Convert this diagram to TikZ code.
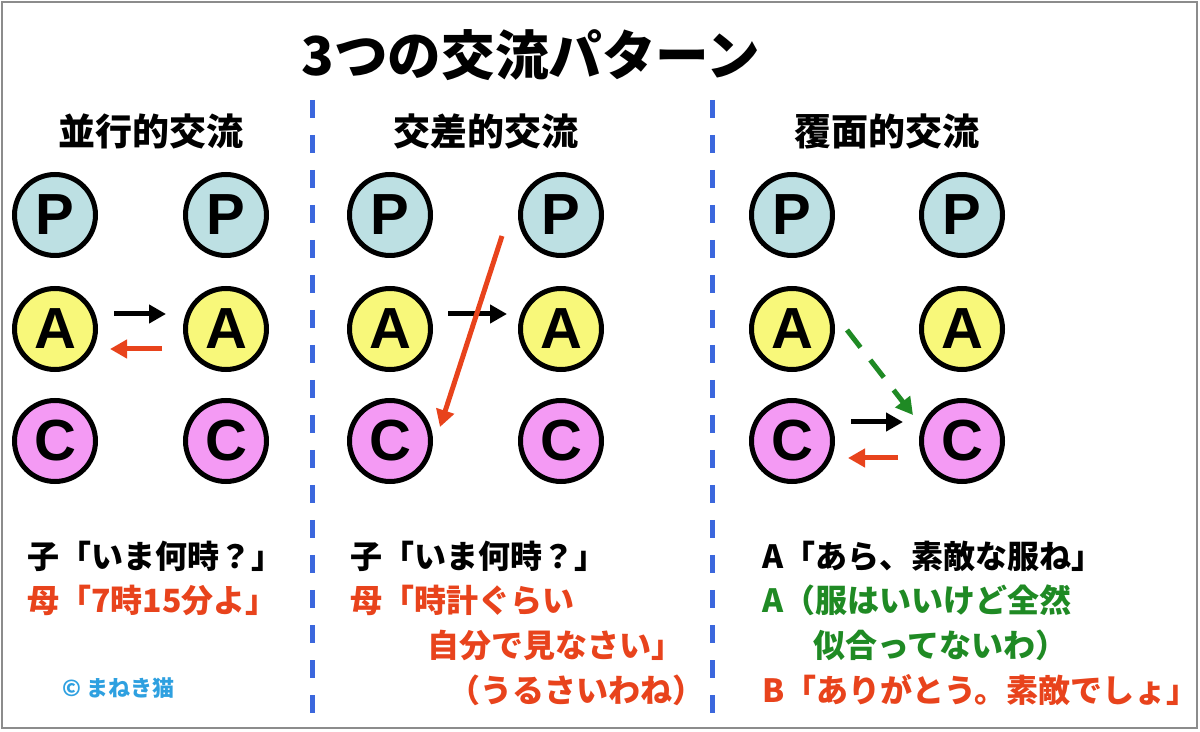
\documentclass[tikz,border=0pt]{standalone}
\usepackage{fontspec}
\setmainfont{Noto Sans CJK JP}
\newfontfamily\letterfont{Liberation Sans}
\usepackage{xcolor}
\usetikzlibrary{arrows.meta,positioning,calc}
\definecolor{figpblue}{HTML}{BDE0E3}
\definecolor{figayellow}{HTML}{F8F87A}
\definecolor{figcpink}{HTML}{F49AF4}
\definecolor{figred}{HTML}{E8431C}
\definecolor{figgreen}{HTML}{1F8A24}
\definecolor{figdash}{HTML}{3B67DD}
\definecolor{figsky}{HTML}{2EA0E0}
\definecolor{figframe}{HTML}{8C8C8C}

\tikzset{
  ego/.style={circle, draw=black, line width=2.5pt, minimum size=40.5pt,
    inner sep=0pt, font=\letterfont\bfseries\fontsize{29}{29}\selectfont},
  egoP/.style={ego, fill=figpblue},
  egoA/.style={ego, fill=figayellow},
  egoC/.style={ego, fill=figcpink},
  msg/.style={-{Triangle[length=8.5pt,width=9pt]}, line width=2.5pt},
  talk/.style={anchor=west, inner sep=0pt, font=\bfseries\fontsize{16}{16}\selectfont},
  heading/.style={inner sep=0pt, font=\bfseries\fontsize{18.5}{18.5}\selectfont},
  divider/.style={draw=figdash, line width=2.5pt, dash pattern=on 9pt off 8.5pt}
}

\begin{document}
\begin{tikzpicture}[x=0.5pt,y=-0.5pt]
\useasboundingbox (0,0) rectangle (1200,732);
\draw[figframe, line width=1.2pt] (2,2) rectangle (1197,728);

\node[inner sep=0pt, font=\bfseries\fontsize{26.8}{26.8}\selectfont] (title) at (531,55)
  {3つの交流パターン};

\draw[divider] (312,100) -- (312,715);
\draw[divider] (712,100) -- (712,715);

\node[heading] (headpar) at (151,131) {並行的交流};
\node[heading] (headcross) at (486,131) {交差的交流};
\node[heading] (headcover) at (887,131) {覆面的交流};

% parallel
\node[egoP] (p1) at (55,215) {P};
\node[egoA] (a1) at (55,329) {A};
\node[egoC] (c1) at (55,441) {C};
\node[egoP] (p2) at (226,215) {P};
\node[egoA] (a2) at (226,329) {A};
\node[egoC] (c2) at (226,441) {C};

% crossed
\node[egoP] (p3) at (390,215) {P};
\node[egoA] (a3) at (390,329) {A};
\node[egoC] (c3) at (390,441) {C};
\node[egoP] (p4) at (561,215) {P};
\node[egoA] (a4) at (561,329) {A};
\node[egoC] (c4) at (561,441) {C};

% ulterior
\node[egoP] (p5) at (792,215) {P};
\node[egoA] (a5) at (792,329) {A};
\node[egoC] (c5) at (792,441) {C};
\node[egoP] (p6) at (962,215) {P};
\node[egoA] (a6) at (962,329) {A};
\node[egoC] (c6) at (962,441) {C};

\draw[msg] ($(a1)+(59,-15)$) -- ($(a2)+(-60,-15)$);
\draw[msg, figred] ($(a2)+(-64,20)$) -- ($(a1)+(55,20)$);

\draw[msg] ($(a3)+(58,-15)$) -- ($(a4)+(-54,-15)$);
\draw[msg, figred] ($(p4)+(-59,21)$) -- ($(c3)+(50,-14)$);

\draw[msg, figgreen, dash pattern=on 11pt off 8pt] ($(a5)+(55,1)$) -- ($(c6)+(-49,-26)$);
\draw[msg] ($(c5)+(59,-19)$) -- ($(c6)+(-59,-19)$);
\draw[msg, figred] ($(c6)+(-64,17)$) -- ($(c5)+(56,17)$);

\node[talk] (child1) at (27,556) {子「いま何時？」};
\node[talk, text=figred] (mother1) at (27,600) {母「7時15分よ」};
\node[anchor=west, inner sep=0pt, text=figsky, font=\bfseries\fontsize{11}{11}\selectfont] (credit) at (62,688)
  {©\ まねき猫};

\node[talk] (child2) at (350,556) {子「いま何時？」};
\node[talk, text=figred] (mother2) at (350,600) {母「時計ぐらい};
\node[talk, text=figred] (mother2b) at (427,645) {自分で見なさい」};
\node[talk, text=figred] (mother2c) at (448,690) {（うるさいわね）};

\node[talk] (speakA) at (762,556) {A「あら、素敵な服ね」};
\node[talk, text=figgreen] (hiddenA) at (762,600) {A（服はいいけど全然};
\node[talk, text=figgreen] (hiddenAb) at (813,645) {似合ってないわ）};
\node[talk, text=figred] (replyB) at (762,690) {B「ありがとう。素敵でしょ」};
\end{tikzpicture}
\end{document}
